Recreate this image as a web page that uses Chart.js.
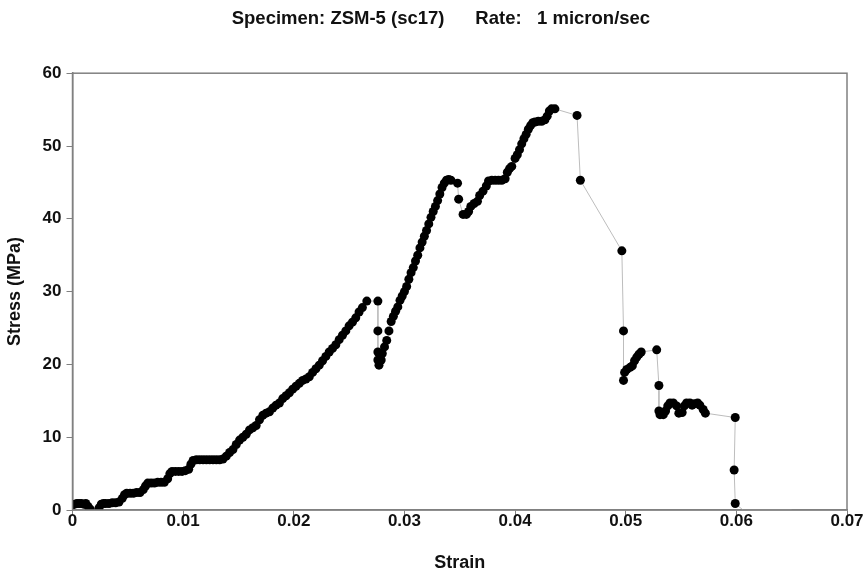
<!DOCTYPE html>
<html>
<head>
<meta charset="utf-8">
<script src="https://cdn.jsdelivr.net/npm/chart.js@4.4.0/dist/chart.umd.min.js"></script>
<style>
  html, body { margin: 0; padding: 0; background: #fff; }
  #wrap { width: 867px; height: 574px; }
</style>
</head>
<body>
<div id="wrap"><canvas id="c" width="867" height="574"></canvas></div>
<script>
// strain / stress
const strain = [
  0, 0.0002, 0.0004, 0.0006, 0.0008, 0.001, 0.0012, 0.0014, 0.0016,
  0.0024, 0.0026, 0.0028, 0.003, 0.0033, 0.0036, 0.0039, 0.0042, 0.0045, 0.0047,
  0.0049, 0.0052, 0.0055, 0.0058, 0.0061, 0.0064, 0.0066, 0.0068, 0.0071, 0.0074,
  0.0077, 0.008, 0.0083, 0.0086, 0.0088, 0.009, 0.0093, 0.0096, 0.0099, 0.0102,
  0.0105, 0.0107, 0.0109, 0.0112, 0.0115, 0.0118, 0.0121, 0.0124, 0.0127, 0.013,
  0.0133, 0.0136, 0.0139, 0.0142, 0.0145, 0.0148, 0.0151, 0.0154, 0.0157, 0.016,
  0.0163, 0.0166, 0.0169, 0.0172, 0.0175, 0.0178, 0.0181, 0.0184, 0.0187, 0.019,
  0.0193, 0.0196, 0.0199, 0.0202, 0.0205, 0.0208, 0.0211, 0.0214, 0.0217, 0.022,
  0.0223, 0.0226, 0.0229, 0.0232, 0.0235, 0.0238, 0.0241, 0.0244, 0.0247, 0.025,
  0.0253, 0.0256, 0.0259, 0.0262, 0.0266,
  0.0276, 0.0276, 0.0276, 0.0276, 0.0277, 0.0279, 0.028, 0.0282, 0.0284, 0.0286,
  0.0288, 0.029, 0.0292, 0.0294, 0.0296, 0.0298, 0.03, 0.0302, 0.0304, 0.0306,
  0.0308, 0.031, 0.0312, 0.0314, 0.0316, 0.0318, 0.032, 0.0322, 0.0324, 0.0326,
  0.0328, 0.033, 0.0332, 0.0334, 0.0336, 0.0338, 0.034, 0.0342,
  0.0348, 0.0349, 0.0353, 0.0356, 0.0358, 0.036, 0.0363, 0.0366, 0.0368, 0.0371,
  0.0374, 0.0376, 0.0379, 0.0382, 0.0385, 0.0388, 0.0391, 0.0393, 0.0395, 0.0397,
  0.04, 0.0402, 0.0404, 0.0406, 0.0408, 0.041, 0.0412, 0.0414, 0.0416, 0.0418,
  0.0421, 0.0424, 0.0427, 0.0429, 0.0431, 0.0433, 0.0436,
  0.0456, 0.0459, 0.04965, 0.0498, 0.0498, 0.0499, 0.0501, 0.0504, 0.0506, 0.0508,
  0.051, 0.0512, 0.0514, 0.0528, 0.053, 0.053, 0.0531, 0.0534, 0.0536, 0.0538,
  0.054, 0.0543, 0.0546, 0.0548, 0.0551, 0.0553, 0.0555, 0.0558, 0.056, 0.0562,
  0.0565, 0.0567, 0.057, 0.0572, 0.0599, 0.0598, 0.0599, 0.0606, 0.065
];
const stress = [
  0.7, 0.8, 0.9, 0.9, 0.9, 0.8, 0.9, 0.5, 0.1,
  0.3, 0.8, 0.9, 0.9, 0.9, 1.0, 1.0, 1.1, 1.6, 2.1,
  2.3, 2.3, 2.3, 2.4, 2.4, 2.8, 3.3, 3.7, 3.7, 3.7,
  3.8, 3.8, 3.8, 4.3, 5.0, 5.3, 5.3, 5.3, 5.3, 5.4,
  5.6, 6.3, 6.8, 6.9, 6.9, 6.9, 6.9, 6.9, 6.9, 6.9,
  6.9, 7.0, 7.4, 7.9, 8.3, 9.0, 9.6, 10.0, 10.4, 11.0,
  11.3, 11.6, 12.4, 13.0, 13.3, 13.5, 14.0, 14.4, 14.7, 15.3,
  15.7, 16.1, 16.6, 17.0, 17.4, 17.8, 18.0, 18.3, 18.9, 19.4,
  19.9, 20.5, 21.1, 21.7, 22.2, 22.7, 23.4, 24.0, 24.6, 25.3,
  25.8, 26.4, 27.2, 27.8, 28.7,
  28.7, 24.6, 21.7, 20.6, 19.9, 20.6, 21.5, 22.4, 23.3, 24.6,
  25.9, 26.6, 27.3, 27.9, 28.8, 29.4, 30.0, 30.7, 31.7, 32.6,
  33.3, 34.2, 35.0, 36.0, 36.8, 37.6, 38.4, 39.3, 40.2, 41.0,
  41.7, 42.5, 43.4, 44.3, 44.9, 45.3, 45.4, 45.3,
  44.9, 42.7, 40.6, 40.6, 41.0, 41.7, 42.1, 42.4, 43.2, 43.8,
  44.5, 45.2, 45.3, 45.3, 45.3, 45.3, 45.5, 46.4, 46.9, 47.2,
  48.3, 48.8, 49.5, 50.3, 51.0, 51.6, 52.3, 52.8, 53.2, 53.3,
  53.4, 53.4, 53.6, 54.1, 54.8, 55.1, 55.1,
  54.2, 45.3, 35.6, 24.6, 17.8, 18.9, 19.3, 19.6, 19.8, 20.5,
  21.0, 21.4, 21.7, 22.0, 17.1, 13.6, 13.1, 13.1, 13.6, 14.3,
  14.7, 14.7, 14.3, 13.3, 13.4, 14.3, 14.7, 14.7, 14.4, 14.6,
  14.7, 14.4, 13.8, 13.3, 12.7, 5.5, 0.9, 0, 0
];

const xTicks = [0, 0.01, 0.02, 0.03, 0.04, 0.05, 0.06, 0.07];
const xTickLabels = ['0', '0.01', '0.02', '0.03', '0.04', '0.05', '0.06', '0.07'];
const yTicks = [0, 10, 20, 30, 40, 50, 60];

const axisGray = '#808080';
const family = 'Liberation Sans, Arial, sans-serif';
const tickFont = { family: family, weight: 'bold', size: 17 };
const titleFont = { family: family, weight: 'bold', size: 18 };

// the two tail points are only the faint trailing line, no marker
const radii = strain.map((v, i) => i >= strain.length - 2 ? 0 : 4.5);

// box around the plot area (top and right edges)
const frame = {
  id: 'frame',
  afterDraw(chart) {
    const a = chart.chartArea, ctx = chart.ctx;
    ctx.save();
    ctx.strokeStyle = axisGray;
    ctx.lineWidth = 1.5;
    ctx.strokeRect(a.left, a.top, a.right - a.left, a.bottom - a.top);
    ctx.restore();
  }
};

new Chart(document.getElementById('c'), {
  type: 'scatter',
  data: {
    datasets: [{
      data: strain.map((x, i) => ({ x: x, y: stress[i] })),
      showLine: true,
      borderColor: '#bdbdbd',
      borderWidth: 1,
      pointRadius: radii,
      pointBackgroundColor: '#000',
      pointBorderColor: '#000',
      pointBorderWidth: 0
    }]
  },
  options: {
    responsive: false,
    animation: false,
    devicePixelRatio: 1,
    layout: { padding: { top: 0, right: 20, bottom: 0, left: 4 } },
    plugins: {
      legend: { display: false },
      tooltip: { enabled: false },
      title: {
        display: true,
        // leading spaces nudge the centred title right, as in the original
        text: '      Specimen: ZSM-5 (sc17)      Rate:   1 micron/sec',
        color: '#111',
        font: { family: family, weight: 'bold', size: 18.5 },
        padding: { top: 8, bottom: 43 }
      }
    },
    scales: {
      x: {
        type: 'linear',
        min: 0,
        max: 0.07,
        afterBuildTicks: axis => { axis.ticks = xTicks.map(v => ({ value: v })); },
        ticks: {
          color: '#111',
          font: tickFont,
          padding: -4,
          maxRotation: 0,
          callback: (v, i) => xTickLabels[i]
        },
        grid: { drawOnChartArea: false, drawTicks: true, tickLength: 5, color: axisGray },
        border: { color: axisGray, width: 1.5 },
        title: { display: true, text: 'Strain', color: '#111', font: titleFont, padding: { top: 25, bottom: 0 } }
      },
      y: {
        min: 0,
        max: 60,
        afterBuildTicks: axis => { axis.ticks = yTicks.map(v => ({ value: v })); },
        ticks: { color: '#111', font: tickFont, padding: 5 },
        grid: { drawOnChartArea: false, drawTicks: true, tickLength: 6, color: axisGray },
        border: { color: axisGray, width: 1.5 },
        title: { display: true, text: 'Stress (MPa)', color: '#111', font: titleFont, padding: { top: 0, bottom: 12 } }
      }
    }
  },
  plugins: [frame]
});
</script>
</body>
</html>
